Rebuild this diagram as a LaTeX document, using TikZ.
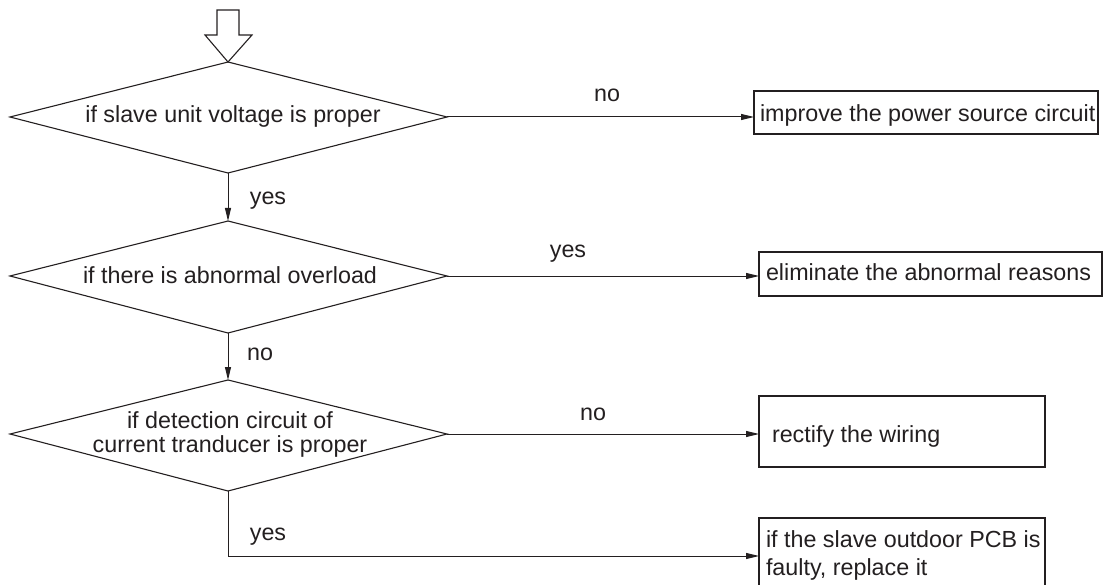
\documentclass[tikz,border=0pt]{standalone}
\usepackage{fontspec}
\setmainfont{Liberation Sans}
\usetikzlibrary{arrows.meta}
\definecolor{ink}{HTML}{231F20}
\begin{document}
\begin{tikzpicture}[x=1pt,y=-1pt,
  every node/.style={font=\fontsize{23.3}{24}\selectfont, text=ink, inner sep=0pt, outer sep=0pt},
  dia/.style={draw=ink, line width=1.1pt, line join=miter},
  thickbox/.style={draw=ink, line width=2.3pt, rectangle},
  thinbox/.style={draw=ink, line width=1.1pt, rectangle},
  conn/.style={draw=ink, line width=1pt, -{Triangle[length=13pt,width=6pt]}},
  lbl/.style={anchor=base},
]
\path[use as bounding box] (0,0) rectangle (1107,585);
\clip (0,0) rectangle (1107,585);

% start arrow (hollow)
\coordinate (d1n) at (228,62);
\draw[dia] (217,10) -- (239,10) -- (239,35) -- (252,35) -- (d1n) -- (205,35) -- (217,35) -- cycle;

% diamonds
\coordinate (d1w) at (10,117); \coordinate (d1e) at (447,117); \coordinate (d1s) at (228,173);
\coordinate (d2n) at (228,221); \coordinate (d2w) at (10,276); \coordinate (d2e) at (447,276); \coordinate (d2s) at (228,333);
\coordinate (d3n) at (228,380); \coordinate (d3w) at (10,434); \coordinate (d3e) at (447,434); \coordinate (d3s) at (228,491);
\draw[dia] (d1n) -- (d1e) -- (d1s) -- (d1w) -- cycle;
\draw[dia] (d2n) -- (d2e) -- (d2s) -- (d2w) -- cycle;
\draw[dia] (d3n) -- (d3e) -- (d3s) -- (d3w) -- cycle;

\node[anchor=base] (q1) at (233,123) {if slave unit voltage is proper};
\node[anchor=base] (q2) at (230,283) {if there is abnormal overload};
\node[anchor=base, align=center] (q3) at (230,452) {if detection circuit of\\current tranducer is proper};

% result boxes
\node[thickbox, minimum width=344pt, minimum height=43pt] (b1) at (926,112.5) {};
\node[thickbox, minimum width=343pt, minimum height=44pt] (b2) at (930.5,274) {};
\node[thinbox, minimum width=286pt, minimum height=71pt] (b3) at (902,431.5) {};
\node[thinbox, minimum width=286pt, minimum height=76pt] (b4) at (902,556) {};

\node[anchor=base west] (r1) at (760,122) {improve the power source circuit};
\node[anchor=base west] (r2) at (766,280) {eliminate the abnormal reasons};
\node[anchor=base west] (r3) at (772,442) {rectify the wiring};
\node[anchor=base west, align=left, font=\fontsize{23.3}{28}\selectfont] (r4) at (766,575) {if the slave outdoor PCB is\\faulty, replace it};

% connectors
\draw[conn] (d1e) -- (d1e -| b1.west);
\draw[conn] (d2e) -- (d2e -| b2.west);
\draw[conn] (d3e) -- (d3e -| b3.west);
\draw[conn] (d3s) |- (b4.west);
\draw[conn] (d1s) -- (d2n);
\draw[conn] (d2s) -- (d3n);

% labels
\node[lbl] (l1) at (607,102) {no};
\node[lbl] (l2) at (268,205) {yes};
\node[lbl] (l3) at (568,258) {yes};
\node[lbl] (l4) at (260,360) {no};
\node[lbl] (l5) at (593,420) {no};
\node[lbl] (l6) at (268,540) {yes};
\end{tikzpicture}
\end{document}
